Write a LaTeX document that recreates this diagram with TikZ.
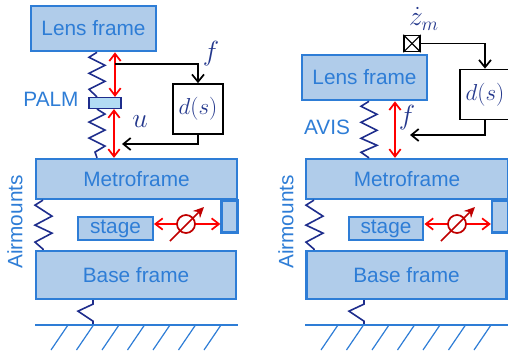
\documentclass[tikz,border=0pt]{standalone}
\usepackage{amsmath, amssymb}
\usepackage{fontspec}
\setmainfont{Liberation Sans}
\usepackage{tikz}
\usetikzlibrary{arrows.meta}

\definecolor{frameblue}{RGB}{46,125,214}
\definecolor{framefill}{RGB}{176,204,234}
\definecolor{palmfill}{RGB}{178,220,244}
\definecolor{springblue}{RGB}{30,45,140}
\definecolor{mathblue}{RGB}{35,55,140}
\definecolor{darkred}{RGB}{192,0,0}

\tikzset{
  frame/.style={draw=frameblue,fill=framefill,line width=1.7pt,inner sep=0pt,text=frameblue,
    font=\fontsize{15.6}{18}\selectfont},
  lbl/.style={text=frameblue,inner sep=0pt,font=\fontsize{15.6}{18}\selectfont},
  mathlbl/.style={text=mathblue,inner sep=0pt,font=\fontsize{20}{22}\selectfont},
  dbox/.style={draw=black,fill=white,line width=1.3pt,inner sep=0pt,minimum width=37.5pt,minimum height=37.5pt,
    text=mathblue,font=\fontsize{18}{20}\selectfont},
  springline/.style={draw=springblue,line width=1.2pt},
  redarrow/.style={draw=red,line width=1.3pt,{Straight Barb[length=5.5pt,width=8.5pt]}-{Straight Barb[length=5.5pt,width=8.5pt]}},
  sigarrow/.style={draw=black,line width=1.3pt,-{Straight Barb[length=5.5pt,width=9pt]}},
  tunering/.style={draw=darkred,fill=white,circle,line width=1.3pt,minimum size=13.5pt,inner sep=0pt},
  tunearrow/.style={draw=darkred,line width=1.3pt,-{Stealth[length=8pt,width=7.5pt]}},
  hatch/.style={draw=frameblue,line width=0.9pt},
}

% the two lower springs are the same on both sides
\newcommand{\airspring}[2]{\draw [springline] #1 -- ++(-8,5) -- ++(17,11) -- ++(-17,9) -- ++(17,8) -- ++(-17,9) -- ++(8,7) -- #2;}
\newcommand{\gndspring}[2]{\draw [springline] #1 -- ++(0,4) -- ++(-15,7) -- ++(15,10) -- #2;}

\begin{document}
\begin{tikzpicture}[x=0.75pt,y=0.75pt,yscale=-1,xscale=1]
    \useasboundingbox (0,0) rectangle (508,354);

    % Left: frames
    \node [frame,minimum width=94pt,minimum height=34pt] (lensL) at (93.5,28.5) {Lens frame};
    \node [frame,minimum width=151pt,minimum height=30pt] (metroL) at (136.5,179) {Metroframe};
    \node [frame,minimum width=12pt,minimum height=24pt] (blockL) at (229.5,216.5) {};
    \node [frame,minimum width=56pt,minimum height=17pt] (stageL) at (115.5,228.5) {stage};
    \node [frame,minimum width=150pt,minimum height=36pt] (baseL) at (136,275) {Base frame};
    \node [draw=springblue,fill=palmfill,line width=1.1pt,minimum width=24pt,minimum height=8pt,inner sep=0pt] (palmL) at (105,103) {};
    \node [dbox] (dL) at (198,109) {$d(s)$};

    % Left: labels
    \node [lbl] (palmtxt) at (51,99) {PALM};
    \node [lbl,rotate=90] (airL) at (15,222) {Airmounts};
    \node [mathlbl] (fL) at (211,54) {$f$};
    \node [mathlbl] (uL) at (140,122) {$u$};

    % Left: springs
    \coordinate (sprL) at (97,0);
    \coordinate (airsprL) at (43,0);
    \coordinate (gndsprL) at (93,0);
    \coordinate (gndL) at (35,325);
    \draw [springline] (sprL |- lensL.south) -- ++(-8,5) -- ++(16,8) -- ++(-16,8) -- ++(16,8) -- ++(-16,8) -- (sprL |- palmL.north);
    \draw [springline] (sprL |- palmL.south) -- ++(8,5) -- ++(-16,8) -- ++(16,8) -- ++(-16,8) -- ++(16,8) -- ++(-10,6) -- (sprL |- metroL.north);
    \airspring{(airsprL |- metroL.south)}{(airsprL |- baseL.north)}
    \gndspring{(gndsprL |- baseL.south)}{(gndsprL |- gndL)}

    % Left: actuator arrows and feedback
    \coordinate (forceL) at (115,64);
    \coordinate (forceuL) at (114,144);
    \draw [redarrow] (forceL |- lensL.south) -- (forceL |- palmL.north);
    \draw [redarrow] (forceuL |- palmL.south) -- (forceuL |- metroL.north);
    \draw [sigarrow] (forceL) -- (dL.north |- forceL) -- (dL.north);
    \draw [sigarrow] (dL.south) -- (dL.south |- forceuL) -- (122,144);

    % Left: stage drive
    \coordinate (tunecL) at (186,224);
    \draw [redarrow] (stageL.east |- tunecL) -- (blockL.west |- tunecL);
    \node [tunering] (tuneL) at (tunecL) {};
    \draw [tunearrow] (170,241) -- (204,207);

    % Left: ground
    \draw [hatch] (gndL) -- (238,325);
    \foreach \i in {0,...,6} {
      \draw [hatch] (68+25.5*\i,325) -- (51+25.5*\i,350);
    }

    % Right: frames
    \node [frame,minimum width=94pt,minimum height=34pt] (lensR) at (364.5,77.5) {Lens frame};
    \node [frame,minimum width=151pt,minimum height=30pt] (metroR) at (407,179) {Metroframe};
    \node [frame,minimum width=12pt,minimum height=24pt] (blockR) at (500,216.5) {};
    \node [frame,minimum width=56pt,minimum height=17pt] (stageR) at (386,228.5) {stage};
    \node [frame,minimum width=150pt,minimum height=36pt] (baseR) at (406.5,275) {Base frame};
    \node [dbox] (dR) at (485,94.5) {$d(s)$};
    \node [draw=black,fill=white,line width=1.1pt,minimum size=12pt,inner sep=0pt] (sensR) at (412,43.5) {};
    \draw [line width=0.8pt] (sensR.north west) -- (sensR.south east);
    \draw [line width=0.8pt] (sensR.south west) -- (sensR.north east);

    % Right: labels
    \node [lbl] (avistxt) at (327,127) {AVIS};
    \node [lbl,rotate=90] (airR) at (286,222) {Airmounts};
    \node [mathlbl] (fR) at (407,118) {$f$};
    \node [mathlbl] (zmR) at (424,19) {$\dot{z}_m$};

    % Right: springs
    \coordinate (sprR) at (369,0);
    \coordinate (airsprR) at (314,0);
    \coordinate (gndsprR) at (364,0);
    \coordinate (gndR) at (305,325);
    \draw [springline] (sprR |- lensR.south) -- ++(-8,5) -- ++(16,8) -- ++(-16,8) -- ++(16,8) -- ++(-16,8) -- ++(16,7) -- ++(-16,7) -- (sprR |- metroR.north);
    \airspring{(airsprR |- metroR.south)}{(airsprR |- baseR.north)}
    \gndspring{(gndsprR |- baseR.south)}{(gndsprR |- gndR)}

    % Right: actuator arrow and feedback
    \coordinate (forceR) at (395,135);
    \draw [redarrow] (forceR |- lensR.south) -- (forceR |- metroR.north);
    \draw [sigarrow] (sensR.east) -- (dR.north |- sensR) -- (dR.north);
    \draw [sigarrow] (dR.south) -- (dR.south |- forceR) -- (410,135);

    % Right: stage drive
    \coordinate (tunecR) at (457,224);
    \draw [redarrow] (stageR.east |- tunecR) -- (blockR.west |- tunecR);
    \node [tunering] (tuneR) at (tunecR) {};
    \draw [tunearrow] (441,241) -- (475,207);

    % Right: ground
    \draw [hatch] (gndR) -- (508,325);
    \foreach \i in {0,...,6} {
      \draw [hatch] (338+25.5*\i,325) -- (321+25.5*\i,350);
    }
\end{tikzpicture}
\end{document}
